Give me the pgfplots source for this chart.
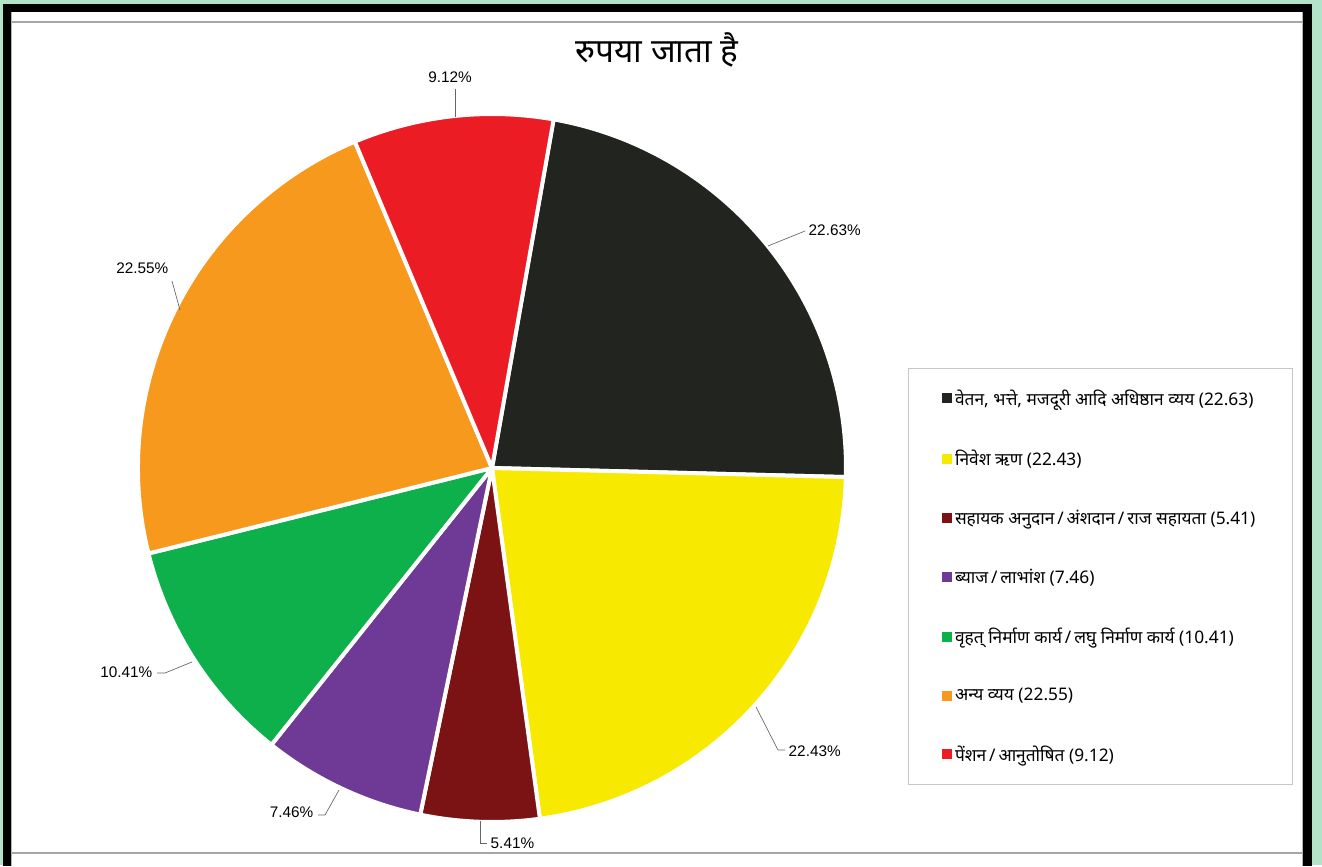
\documentclass[border=0pt]{standalone}
\usepackage{pgfplots}
\pgfplotsset{compat=1.18}
\usepackage{fontspec}
\setmainfont{Liberation Sans}
\newfontfamily\dev[Script=Devanagari]{Noto Sans}

\definecolor{mint}{HTML}{B2E2C8}
\definecolor{cBlack}{HTML}{222420}
\definecolor{cYellow}{HTML}{F7EA00}
\definecolor{cBrown}{HTML}{7B1213}
\definecolor{cPurple}{HTML}{6F3A96}
\definecolor{cGreen}{HTML}{0DB04B}
\definecolor{cOrange}{HTML}{F7991C}
\definecolor{cRed}{HTML}{EC1C24}

% one slice, clockwise from the current angle
\newcommand{\slice}[2]{%
  \pgfmathsetmacro{\endang}{\curang-3.6*#1}%
  \edef\tmp{\noexpand\fill[#2, draw=white, line width=3pt, line join=round]
    (axis cs:0,0) -- (axis cs:{cos(\curang)},{sin(\curang)})
    arc[start angle=\curang, end angle=\endang, radius=1] -- cycle;}%
  \tmp
  \xdef\curang{\endang}%
}
\newcommand{\slsh}{\,/\,}

\begin{document}
\begin{tikzpicture}[x=0.75pt, y=-0.75pt]
% frame
\fill[mint] (0,0) rectangle (1322,865);
\fill[black] (3,4) rectangle (1312,866);
\fill[white] (11,12) rectangle (1303,866);
\draw[gray!70, line width=1.5pt] (11,22) -- (1303,22);
\draw[gray!70, line width=1.2pt] (11,853) -- (1303,853);
\draw[gray!60, line width=0.6pt] (11.5,12) -- (11.5,866);
\draw[gray!60, line width=0.6pt] (1302.5,12) -- (1302.5,866);
\path[use as bounding box] (0,0) rectangle (1322,865);

\begin{axis}[
    at={(369pt,-351pt)}, anchor=center,
    width=531pt, height=531pt, scale only axis,
    xmin=-1, xmax=1, ymin=-1, ymax=1,
    hide axis, clip=false,
    legend style={
        at={(1.0876,0.6412)}, anchor=north west,
        draw=gray!45, line width=0.5pt,
        font=\dev\fontsize{13}{14}\selectfont,
        inner xsep=25pt, inner ysep=14pt,
        row sep=28pt,
        legend cell align=left,
        nodes={inner xsep=2.5pt},
    },
    legend image code/.code={\fill[#1] (0pt,-3.75pt) rectangle (7.5pt,3.75pt);},
]
\xdef\curang{80}
\slice{22.63}{cBlack}
\slice{22.43}{cYellow}
\slice{5.41}{cBrown}
\slice{7.46}{cPurple}
\slice{10.41}{cGreen}
\slice{22.55}{cOrange}
\slice{9.12}{cRed}

\addlegendimage{fill=cBlack, draw=none}
\addlegendentry{वेतन, भत्ते, मजदूरी आदि अधिष्ठान व्यय (22.63)}
\addlegendimage{fill=cYellow, draw=none}
\addlegendentry{निवेश ऋण (22.43)}
\addlegendimage{fill=cBrown, draw=none}
\addlegendentry{सहायक अनुदान\slsh अंशदान\slsh राज सहायता (5.41)}
\addlegendimage{fill=cPurple, draw=none}
\addlegendentry{ब्याज\slsh लाभांश (7.46)}
\addlegendimage{fill=cGreen, draw=none}
\addlegendentry{वृहत् निर्माण कार्य\slsh लघु निर्माण कार्य (10.41)}
\addlegendimage{fill=cOrange, draw=none}
\addlegendentry{अन्य व्यय (22.55)}
\addlegendimage{fill=cRed, draw=none}
\addlegendentry{पेंशन\slsh आनुतोषित (9.12)}
\end{axis}

% title
\node at (657,50) {\dev\fontsize{25}{29}\selectfont रुपया जाता है};

% data labels with leader lines
\begin{scope}[font=\fontsize{11.5}{13}\selectfont]
\draw[gray!80!black, line width=0.5pt] (455,89) -- (455,117);
\node at (450,77) {9.12\%};
\draw[gray!80!black, line width=0.5pt] (768,246) -- (805,231);
\node[anchor=west] at (804,230) {22.63\%};
\draw[gray!80!black, line width=0.5pt] (172,281) -- (180,310);
\node[anchor=east] at (173,268) {22.55\%};
\draw[gray!80!black, line width=0.5pt] (192,662) -- (165,673) -- (157,673);
\node[anchor=east] at (157,672) {10.41\%};
\draw[gray!80!black, line width=0.5pt] (339,790) -- (325,815) -- (318,815);
\node[anchor=east] at (318,812) {7.46\%};
\draw[gray!80!black, line width=0.5pt] (480,821) -- (480,843) -- (487,843);
\node[anchor=west] at (486,843) {5.41\%};
\draw[gray!80!black, line width=0.5pt] (756,707) -- (778,750) -- (785,750);
\node[anchor=west] at (784,751) {22.43\%};
\end{scope}
\end{tikzpicture}
\end{document}
